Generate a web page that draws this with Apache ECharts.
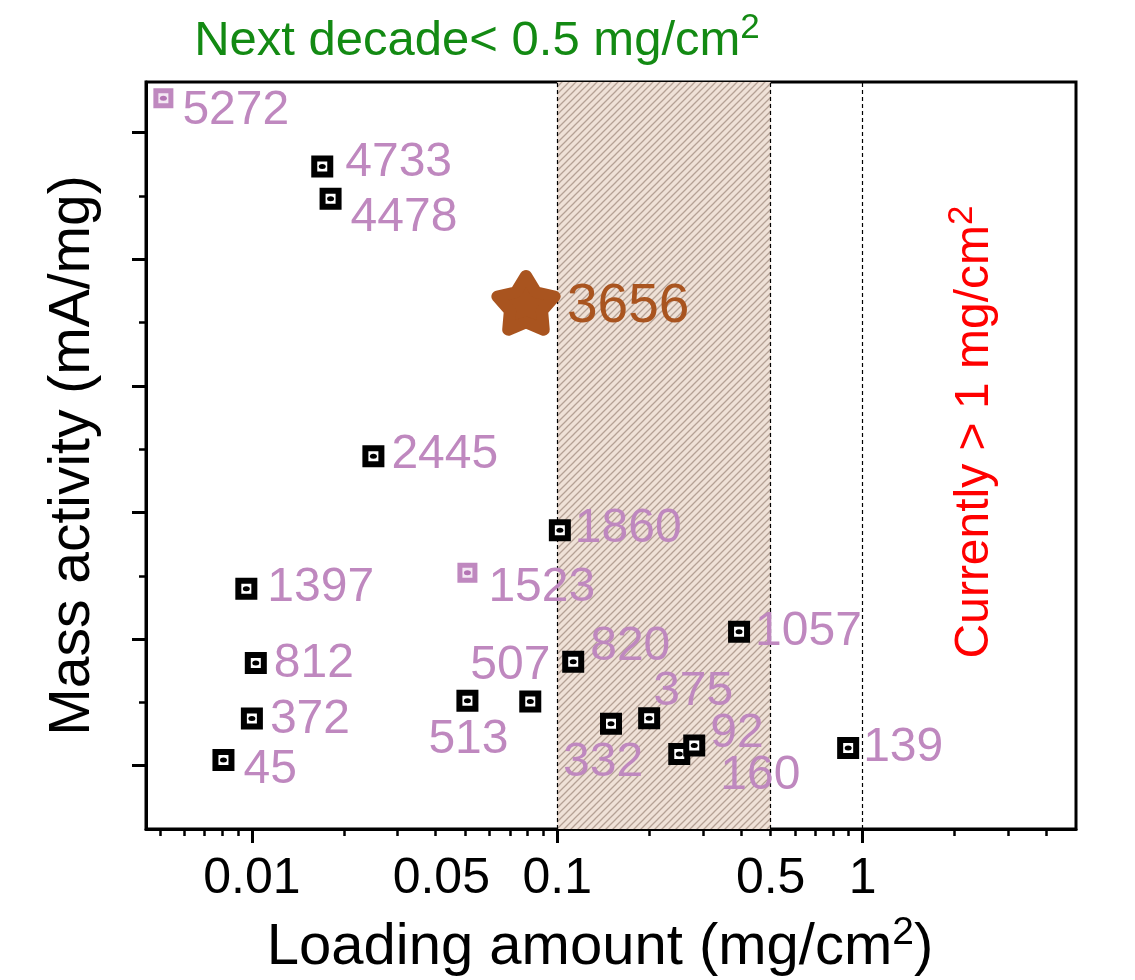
<!DOCTYPE html>
<html>
<head>
<meta charset="utf-8">
<script src="https://cdn.jsdelivr.net/npm/echarts@6/dist/echarts.min.js"></script>
<style>
  html, body { margin: 0; padding: 0; background: #fff; }
  #chart { width: 1135px; height: 980px; }
</style>
</head>
<body>
<div id="chart"></div>
<script>
// Reported catalysts: Pt loading (mg/cm2) and mass activity (mA/mg)
const refLoading  = [0.0170, 0.0181, 0.0250, 0.102, 0.00959, 0.0103, 0.0100, 0.00807, 0.0508, 0.0816, 0.1128, 0.150, 0.200, 0.251, 0.281, 0.394, 0.897];
const refActivity = [4733, 4478, 2445, 1860, 1397, 812, 372, 45, 513, 507, 820, 332, 375, 92, 160, 1057, 139];
// Catalysts drawn with the pale marker
const paleLoading  = [0.00513, 0.0508];
const paleActivity = [5272, 1523];
// This work
const starLoading  = [0.079];
const starActivity = [3656];

// Axis ticks and labels
const xMajorTicks = [0.01, 0.1, 1];
const xMinorTicks = [0.005, 0.006, 0.007, 0.008, 0.009, 0.02, 0.03, 0.04, 0.05, 0.06, 0.07, 0.08, 0.09,
                     0.2, 0.3, 0.4, 0.5, 0.6, 0.7, 0.8, 0.9, 2, 3, 4];
const xTickLabels = [0.01, 0.05, 0.1, 0.5, 1];
const yMajorTicks = [0, 1000, 2000, 3000, 4000, 5000];
const yMinorTicks = [500, 1500, 2500, 3500, 4500];

// Target loading window and guide lines
const targetRange = [0.1, 0.5];
const guideLines = [0.1, 0.5, 1];

// Label placement (text left edge / vertical centre relative to the marker), in px
const refLabelOffsets = [[23, -4], [20, 19], [18, -1], [15, -1], [21, -1], [18, 1], [18, 1], [20, 10],
                         [-39, 39], [-60, -36], [17, -15], [-48, 39], [4, -26], [31, -20], [26, 30], [16, 0], [15, 0]];
const paleLabelOffsets = [[19, 13], [21, 15]];
const starLabelOffsets = [[41, 4]];

const FONT = "'Liberation Sans', Arial, Helvetica, sans-serif";
const PURPLE = '#BF88BF';
const BROWN = '#A9541F';

function hatchPattern() {
  const c = document.createElement('canvas');
  c.width = 7; c.height = 7;
  const g = c.getContext('2d');
  g.fillStyle = '#EFE1D7';
  g.fillRect(0, 0, 7, 7);
  g.strokeStyle = '#B5A195';
  g.lineWidth = 1.3;
  g.beginPath();
  g.moveTo(-1, 8); g.lineTo(8, -1);
  g.moveTo(-1, 1); g.lineTo(1, -1);
  g.moveTo(6, 8); g.lineTo(8, 6);
  g.stroke();
  return c;
}

function starPath() {
  let d = '';
  for (let i = 0; i < 10; i++) {
    const r = i % 2 ? 0.56 : 1;
    const a = -Math.PI / 2 + i * Math.PI / 5;
    d += (i ? 'L' : 'M') + (r * Math.cos(a)).toFixed(4) + ' ' + (r * Math.sin(a)).toFixed(4);
  }
  return 'path://' + d + 'Z';
}

function points(xs, ys) {
  return xs.map((x, i) => [x, ys[i]]);
}
function labelledPoints(xs, ys, offsets) {
  return xs.map((x, i) => ({ value: [x, ys[i]], label: { offset: offsets[i] } }));
}
function valueLabel(color, size) {
  return {
    show: true, position: 'inside', align: 'left', verticalAlign: 'middle',
    formatter: p => String(p.value[1]),
    color: color, fontSize: size, fontFamily: FONT, opacity: 1
  };
}
// Superscript: bottom padding lifts the glyph above the line centre
function supStyle(color, size, lift) {
  return { fill: color, color: color, fontSize: size, fontFamily: FONT, lineHeight: 20, padding: [0, 0, lift, 0] };
}

const chart = echarts.init(document.getElementById('chart'), null, { renderer: 'canvas' });

const xRange = { min: 0.0045, max: 5 };
const yRange = { min: -500, max: 5400 };

chart.setOption({
  backgroundColor: '#fff',
  animation: false,
  grid: {
    left: 146, right: 59, top: 82, bottom: 151,
    outerBoundsMode: 'none', containLabel: false,
    show: true, borderColor: '#000', borderWidth: 3
  },
  xAxis: [
    {
      type: 'log', logBase: 10, min: xRange.min, max: xRange.max, position: 'bottom',
      axisLine: { onZero: false, lineStyle: { color: '#000', width: 3 } },
      axisTick: { customValues: xMajorTicks, length: 14, inside: false, lineStyle: { color: '#000', width: 3 } },
      axisLabel: {
        customValues: xTickLabels, margin: 25, color: '#000', fontSize: 50, fontFamily: FONT,
        formatter: v => {
          const s = String(+(+v).toPrecision(3));
          return s === '0.05' ? '{shift|' + s + '}' : s;
        },
        rich: { shift: { fontSize: 50, fontFamily: FONT, color: '#000', padding: [0, 48, 0, 0] } }
      },
      splitLine: { show: false },
      name: 'Loading amount (mg/cm{sup|2})',
      nameLocation: 'middle', nameGap: 90,
      nameTextStyle: {
        color: '#000', fontSize: 58, fontFamily: FONT, padding: [0, 22, 0, 0],
        rich: { sup: supStyle('#000', 39, 30) }
      }
    },
    {
      type: 'log', logBase: 10, min: xRange.min, max: xRange.max, position: 'bottom',
      axisLine: { show: false, onZero: false },
      axisTick: { customValues: xMinorTicks, length: 7, inside: false, lineStyle: { color: '#000', width: 2.5 } },
      axisLabel: { show: false },
      splitLine: { show: false }
    }
  ],
  yAxis: [
    {
      type: 'value', min: yRange.min, max: yRange.max, position: 'left',
      axisLine: { onZero: false, lineStyle: { color: '#000', width: 3 } },
      axisTick: { customValues: yMajorTicks, length: 14, inside: false, lineStyle: { color: '#000', width: 3 } },
      axisLabel: { show: false },
      splitLine: { show: false },
      name: 'Mass activity (mA/mg)',
      nameLocation: 'middle', nameGap: 44, nameRotate: 90,
      nameTextStyle: { color: '#000', fontSize: 57, fontFamily: FONT }
    },
    {
      type: 'value', min: yRange.min, max: yRange.max, position: 'left',
      axisLine: { show: false, onZero: false },
      axisTick: { customValues: yMinorTicks, length: 7, inside: false, lineStyle: { color: '#000', width: 2.5 } },
      axisLabel: { show: false },
      splitLine: { show: false }
    }
  ],
  series: [
    {
      name: 'reference',
      type: 'scatter', xAxisIndex: 0, yAxisIndex: 0, z: 3,
      symbol: 'rect', symbolSize: 16,
      itemStyle: { color: '#fff', borderColor: '#000', borderWidth: 6, opacity: 1 },
      label: valueLabel(PURPLE, 48),
      data: labelledPoints(refLoading, refActivity, refLabelOffsets),
      markArea: {
        silent: true, z: 1,
        itemStyle: { color: { image: hatchPattern(), repeat: 'repeat' }, borderWidth: 0, opacity: 1 },
        data: [[{ xAxis: targetRange[0] }, { xAxis: targetRange[1] }]]
      },
      markLine: {
        silent: true, symbol: ['none', 'none'], z: 2,
        label: { show: false },
        lineStyle: { color: '#000', width: 1.2, type: [4, 3], opacity: 1 },
        data: guideLines.map(v => ({ xAxis: v }))
      }
    },
    {
      name: 'reference-dot',
      type: 'scatter', xAxisIndex: 0, yAxisIndex: 0, z: 4, silent: true,
      symbol: 'circle', symbolSize: [7, 5],
      itemStyle: { color: '#000', opacity: 1 },
      data: points(refLoading, refActivity)
    },
    {
      name: 'pale',
      type: 'scatter', xAxisIndex: 0, yAxisIndex: 0, z: 3,
      symbol: 'rect', symbolSize: 15,
      itemStyle: { color: '#F4E8F4', borderColor: PURPLE, borderWidth: 5, opacity: 1 },
      label: valueLabel(PURPLE, 48),
      data: labelledPoints(paleLoading, paleActivity, paleLabelOffsets)
    },
    {
      name: 'pale-dot',
      type: 'scatter', xAxisIndex: 0, yAxisIndex: 0, z: 4, silent: true,
      symbol: 'circle', symbolSize: [7, 5],
      itemStyle: { color: '#B475B4', opacity: 1 },
      data: points(paleLoading, paleActivity)
    },
    {
      name: 'this work',
      type: 'scatter', xAxisIndex: 0, yAxisIndex: 0, z: 5,
      symbol: starPath(), symbolSize: [57, 54],
      itemStyle: { color: BROWN, borderColor: BROWN, borderWidth: 12, borderJoin: 'round', opacity: 1 },
      label: valueLabel(BROWN, 55),
      data: labelledPoints(starLoading, starActivity, starLabelOffsets)
    }
  ],
  graphic: [
    {
      type: 'text', x: 477, y: 41, z: 10,
      style: {
        text: 'Next decade< 0.5 mg/cm{sup|2}',
        fill: '#138A13', fontSize: 49, fontFamily: FONT,
        align: 'center', verticalAlign: 'middle',
        rich: { sup: supStyle('#138A13', 35, 26) }
      }
    },
    {
      type: 'text', x: 975, y: 432, rotation: Math.PI / 2, z: 10,
      style: {
        text: 'Currently > 1 mg/cm{sup|2}',
        fill: '#FF0000', fontSize: 48, fontFamily: FONT,
        align: 'center', verticalAlign: 'middle',
        rich: { sup: supStyle('#FF0000', 35, 26) }
      }
    }
  ]
});
</script>
</body>
</html>
